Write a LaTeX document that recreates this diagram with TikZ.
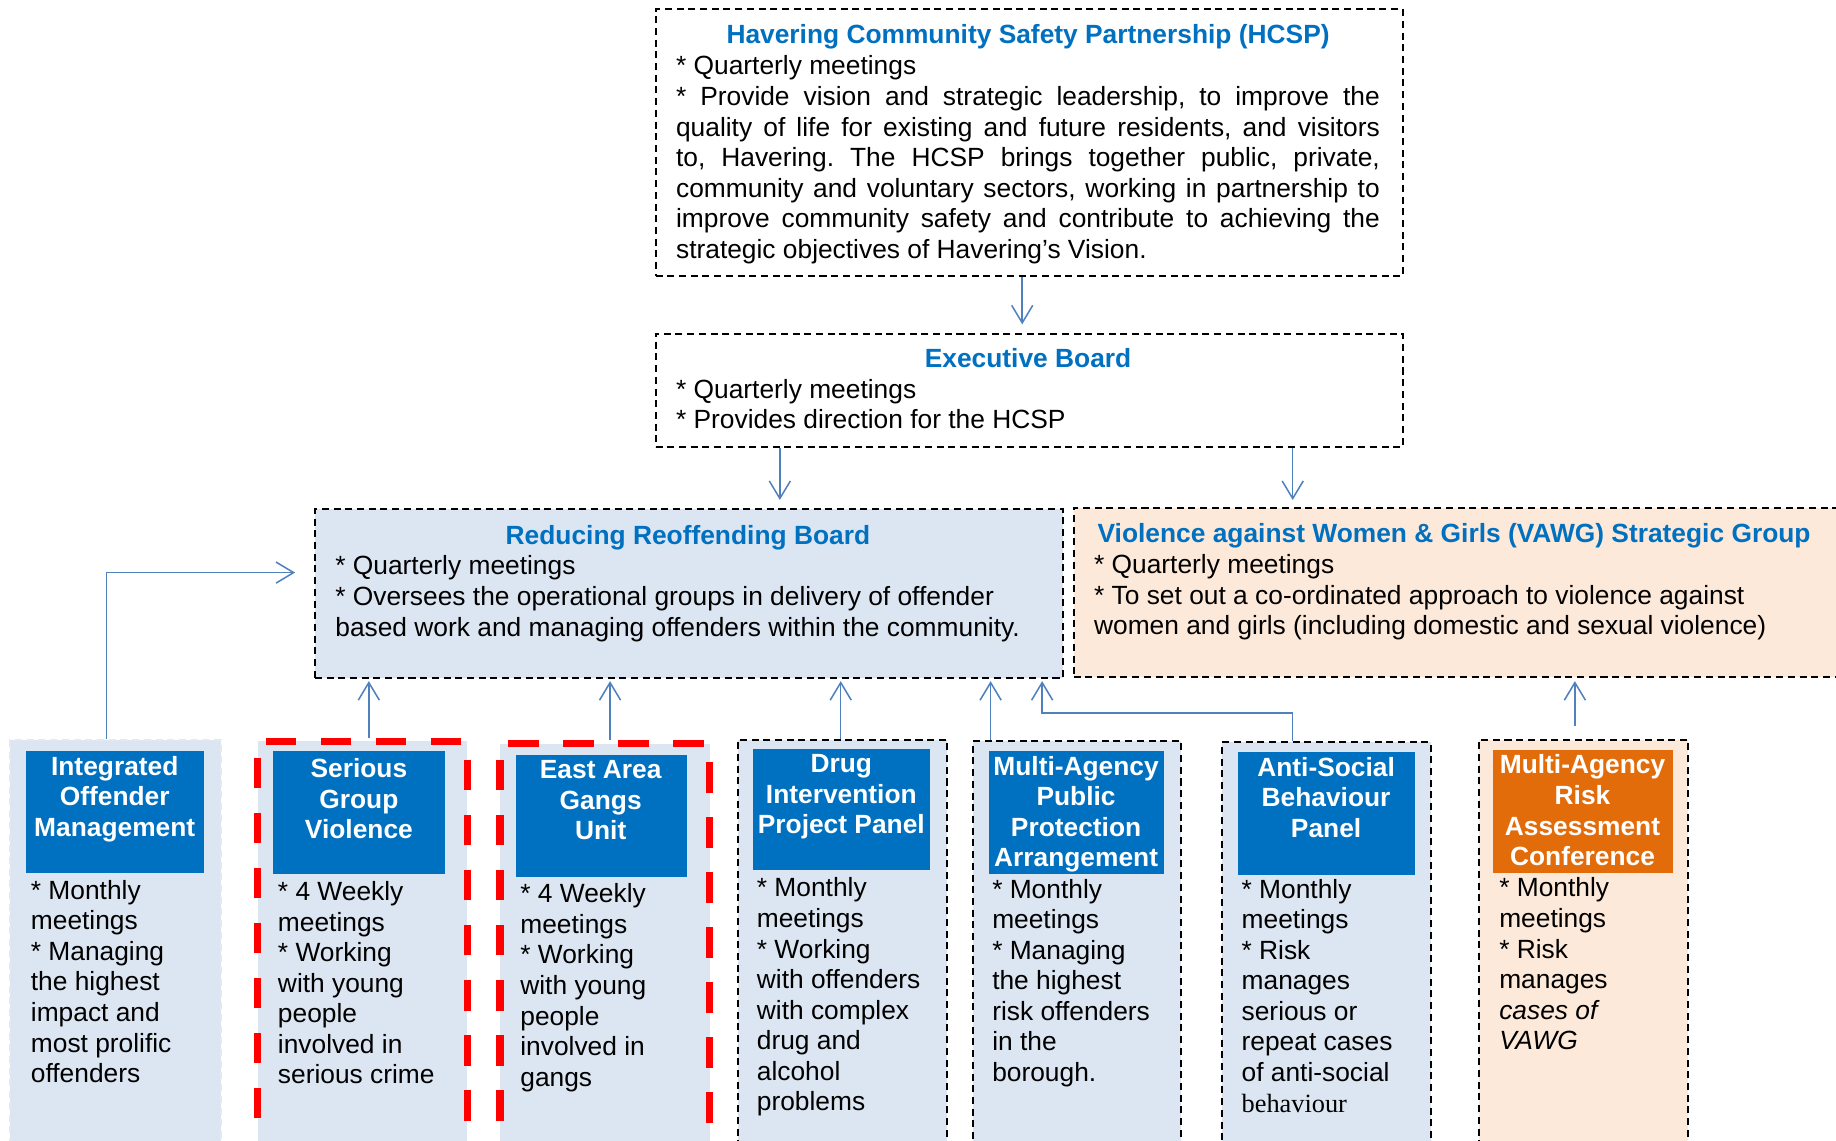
\documentclass[tikz,border=0pt]{standalone}
\usepackage{fontspec}
\setmainfont{Liberation Sans}
\newfontfamily\timesfam{Liberation Serif}
\usetikzlibrary{arrows.meta}
\frenchspacing
\definecolor{lblue}{HTML}{DCE6F2}
\definecolor{peach}{HTML}{FDE9D9}
\definecolor{hblue}{HTML}{0070C0}
\definecolor{horange}{HTML}{E36C0A}
\definecolor{arrblue}{HTML}{4F81BD}
\definecolor{faint}{HTML}{E4E9F0}
\newcommand\tb[2]{\parbox[t]{#1}{\raggedright\frenchspacing #2}}
\newcommand\cb[2]{\parbox[t]{#1}{\centering #2}}
\newcommand\jl[1]{\hbox to\hsize{#1}}
\newcommand\nl{\\{}}
\begin{document}
\begin{tikzpicture}[x=0.5pt,y=-0.5pt,font=\fontsize{11.25}{13.05}\selectfont,
  dbox/.style={draw=black, line width=0.85pt, dash pattern=on 3pt off 2pt, inner sep=0pt, anchor=north west, rectangle},
  rbox/.style={draw=red, line width=3pt, dash pattern=on 13pt off 10.5pt, fill=lblue, inner sep=0pt, anchor=north west, rectangle},
  fbox/.style={draw=faint, line width=0.85pt, dash pattern=on 3pt off 2pt, fill=lblue, inner sep=0pt, anchor=north west, rectangle},
  hdr/.style={fill=hblue, inner sep=0pt, anchor=north west, rectangle},
  hdrtxt/.style={text=white, font=\fontsize{11.25}{13.05}\selectfont\bfseries, anchor=base, inner sep=0pt},
  body/.style={anchor=base west, inner sep=0pt},
  ttl/.style={text=hblue, font=\fontsize{11.25}{13.05}\selectfont\bfseries, anchor=base, inner sep=0pt},
  arr/.style={draw=arrblue, line width=0.65pt, -{Straight Barb[length=7.5pt,width=9pt]}}
]
\useasboundingbox (0,0) rectangle (1568,974);
\clip (0,0) rectangle (1568,974);
\fill[white] (0,0) rectangle (1568,974);

% ---- top boxes
\node[dbox, minimum width=319pt, minimum height=114pt] (hcsp) at (559,7) {};
\node[ttl] (hcspt) at (878,37) {Havering Community Safety Partnership (HCSP)};
\node[body] (hcspb) at (577,64) {\parbox[t]{300.5pt}{\frenchspacing
\jl{* Quarterly meetings\hfil}%
\jl{* Provide vision and strategic leadership, to improve the}%
\jl{quality of life for existing and future residents, and visitors}%
\jl{to, Havering. The HCSP brings together public, private,}%
\jl{community and voluntary sectors, working in partnership to}%
\jl{improve community safety and contribute to achieving the}%
\noindent strategic objectives of Havering’s Vision.}};

\node[dbox, minimum width=319pt, minimum height=48.5pt] (exec) at (559,284) {};
\node[ttl] (exect) at (878,314) {Executive Board};
\node[body] (execb) at (577,340) {\tb{300pt}{* Quarterly meetings\nl* Provides direction for the HCSP}};

\node[dbox, fill=lblue, minimum width=319.5pt, minimum height=72pt] (rrb) at (268,434) {};
\node[ttl] (rrbt) at (587.5,465) {Reducing Reoffending Board};
\node[body] (rrbb) at (286,491) {\tb{310pt}{* Quarterly meetings\nl* Oversees the operational groups in delivery of offender\nl based work and managing offenders within the community.}};

\node[dbox, fill=peach, minimum width=360pt, minimum height=72pt] (vawg) at (916,433) {};
\node[ttl, anchor=base west] (vawgt) at (937,463) {Violence against Women \& Girls (VAWG) Strategic Group};
\node[body] (vawgb) at (934,490) {\tb{320pt}{* Quarterly meetings\nl* To set out a co-ordinated approach to violence against\nl women and girls (including domestic and sexual violence)}};

% ---- columns
\node[fbox, minimum width=90pt, minimum height=190pt] (intg) at (8,631) {};
\node[rbox, minimum width=89.5pt, minimum height=190pt] (sgv) at (217,630) {};
\node[rbox, minimum width=89.5pt, minimum height=190pt] (eagu) at (424,632) {};
\node[dbox, fill=lblue, minimum width=89.5pt, minimum height=190pt] (drug) at (629,631) {};
\node[dbox, fill=lblue, minimum width=89pt, minimum height=190pt] (mappa) at (830,632) {};
\node[dbox, fill=lblue, minimum width=89pt, minimum height=190pt] (asb) at (1043,633) {};
\node[dbox, fill=peach, minimum width=89.5pt, minimum height=190pt] (marac) at (1262,631) {};

% ---- headers
\node[hdr, minimum width=76pt, minimum height=52pt] (intgh) at (22,641) {};
\node[hdr, minimum width=73.5pt, minimum height=52.5pt] (sgvh) at (233,641) {};
\node[hdr, minimum width=73pt, minimum height=52.5pt] (eaguh) at (440,644) {};
\node[hdr, minimum width=75.5pt, minimum height=52pt] (drugh) at (643,639) {};
\node[hdr, minimum width=75pt, minimum height=52.5pt] (mappah) at (844,641) {};
\node[hdr, minimum width=75.5pt, minimum height=52.5pt] (asbh) at (1057,642) {};
\node[hdr, fill=horange, minimum width=76.5pt, minimum height=52.5pt] (marach) at (1275,640) {};

\node[hdrtxt] (intght) at (98,662) {\cb{76pt}{Integrated\\Offender\\Management}};
\node[hdrtxt] (sgvht) at (306.5,664) {\cb{73.5pt}{Serious\\Group\\Violence}};
\node[hdrtxt] (eaguht) at (513,665) {\cb{73pt}{East Area\\Gangs\\Unit}};
\node[hdrtxt] (drught) at (718.5,660) {\cb{75.5pt}{Drug\\Intervention\\Project Panel}};
\node[hdrtxt] (mappaht) at (919,662) {\cb{75pt}{Multi-Agency\\Public\\Protection\\Arrangement}};
\node[hdrtxt] (asbht) at (1132.5,663) {\cb{75.5pt}{Anti-Social\\Behaviour\\Panel}};
\node[hdrtxt] (maracht) at (1351.5,661) {\cb{76.5pt}{Multi-Agency\\Risk\\Assessment\\Conference}};

% ---- column bodies
\node[body] (intgb) at (26,768) {\tb{100pt}{* Monthly\nl meetings\nl* Managing\nl the highest\nl impact and\nl most prolific\nl offenders}};
\node[body] (sgvb) at (237,769) {\tb{100pt}{* 4 Weekly\nl meetings\nl* Working\nl with young\nl people\nl involved in\nl serious crime}};
\node[body] (eagub) at (444,771) {\tb{100pt}{* 4 Weekly\nl meetings\nl* Working\nl with young\nl people\nl involved in\nl gangs}};
\node[body] (drugb) at (646,766) {\tb{100pt}{* Monthly\nl meetings\nl* Working\nl with offenders\nl with complex\nl drug and\nl alcohol\nl problems}};
\node[body] (mappab) at (847,767) {\tb{100pt}{* Monthly\nl meetings\nl* Managing\nl the highest\nl risk offenders\nl in the\nl borough.}};
\node[body] (asbb) at (1060,767) {\tb{100pt}{* Monthly\nl meetings\nl* Risk\nl manages\nl serious or\nl repeat cases\nl of anti-social\nl{\timesfam behaviour}}};
\node[body] (maracb) at (1280,766) {\tb{100pt}{* Monthly\nl meetings\nl* Risk\nl manages\nl\textit{cases of}\nl\textit{VAWG}}};

% ---- connector reference coordinates
\coordinate (c873) at (873,0);
\coordinate (c666) at (666,0);
\coordinate (c1104) at (1104,0);
\coordinate (c91) at (91,0);
\coordinate (c315) at (315,0);
\coordinate (c521) at (521,0);
\coordinate (c718) at (718,0);
\coordinate (c846) at (846,0);
\coordinate (c1345) at (1345,0);
\coordinate (asbbend) at (890,609);
\coordinate (intgbend) at (91,489);

% ---- connectors
\draw[arr, shorten >=3.5pt] (hcsp.south -| c873) -- (exec.north -| c873);
\draw[arr, shorten >=3.5pt] (exec.south -| c666) -- (rrb.north -| c666);
\draw[arr, shorten >=3pt] (exec.south -| c1104) -- (vawg.north -| c1104);
\draw[arr, shorten >=8pt] (intg.north -| c91) -- (intgbend) -- (intgbend -| rrb.west);
\draw[arr, shorten >=1pt] (sgv.north -| c315) -- (rrb.south -| c315);
\draw[arr, shorten >=1pt] (eagu.north -| c521) -- (rrb.south -| c521);
\draw[arr, shorten >=1pt] (drug.north -| c718) -- (rrb.south -| c718);
\draw[arr, shorten >=1pt] (mappa.north -| c846) -- (rrb.south -| c846);
\draw[arr, shorten >=1pt] (asb.north -| c1104) |- (asbbend) -- (asbbend |- rrb.south);
\draw[arr, shorten <=5.5pt, shorten >=1.5pt] (marac.north -| c1345) -- (vawg.south -| c1345);
\end{tikzpicture}
\end{document}
